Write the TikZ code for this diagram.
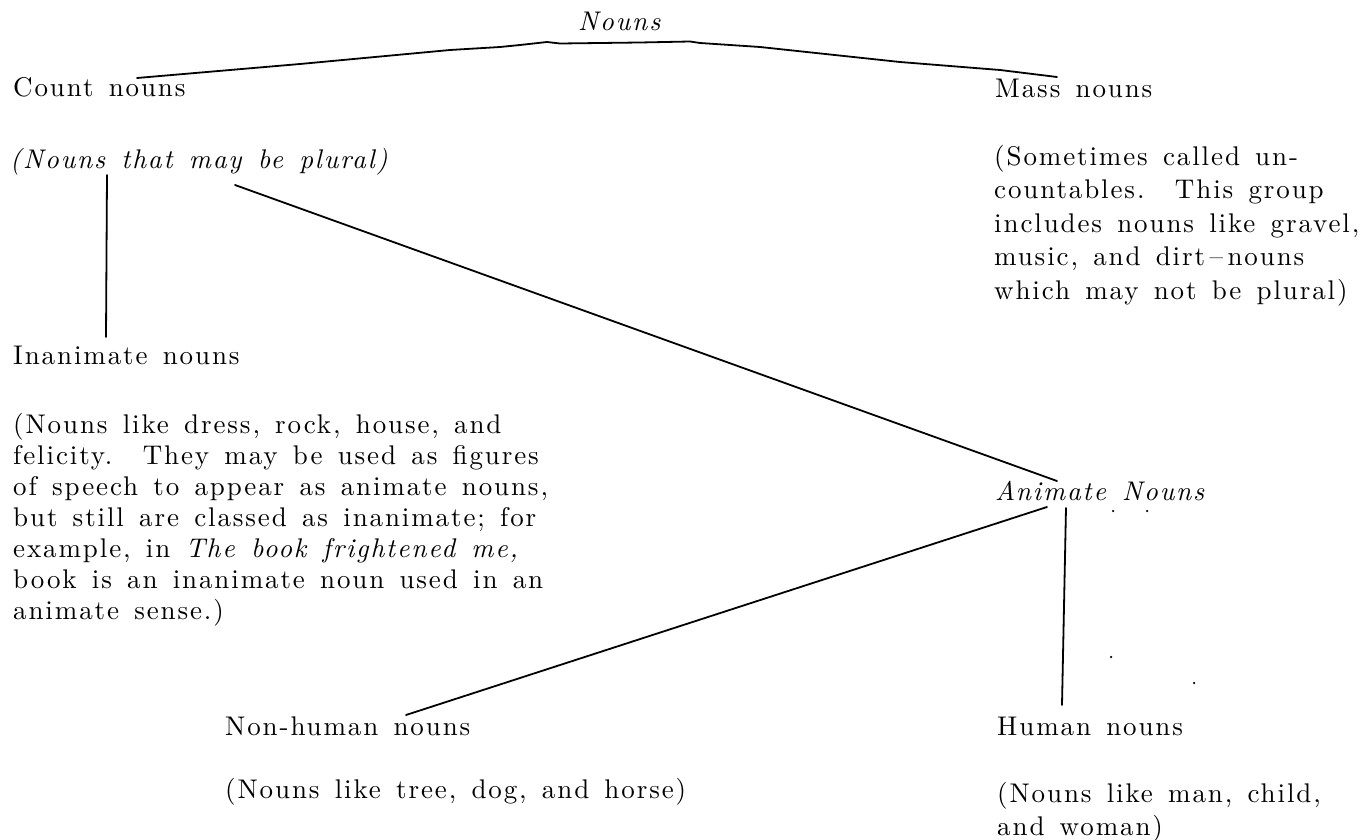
\documentclass[tikz,border=0pt]{standalone}
\usepackage{fontspec}
\setmainfont{lmroman10-regular.otf}[ItalicFont=lmroman10-italic.otf, LetterSpace=7, WordSpace=1.4]
\tikzset{
  lbl/.style={inner sep=0pt, anchor=base west, font=\fontsize{27}{31}\selectfont},
  ilbl/.style={inner sep=0pt, anchor=base west, font=\fontsize{27}{31}\selectfont\itshape},
  para/.style={inner sep=0pt, anchor=north west, align=left, font=\fontsize{27}{#1}\selectfont},
  conn/.style={line width=1.8pt, line cap=round, line join=round},
  speck/.style={fill=black, inner sep=0pt, minimum size=2.5pt, circle}
}
\begin{document}
\begin{tikzpicture}[x=1pt,y=-1pt]
\useasboundingbox (0,0) rectangle (1369,840);
% labels
\node[ilbl] (nouns) at (578,31) {Nouns};
\node[lbl] (count) at (13,97) {Count nouns};
\node[lbl] (mass) at (995,98) {Mass nouns};
\node[ilbl] (plural) at (10,168) {(Nouns that may be plural)};
\node[para=33.5] (massdesc) at (994,145) {(Sometimes called un-\\countables.~~This group\\includes nouns like gravel,\\music, and dirt\,--\,nouns\\which may not be plural)};
\node[lbl] (inan) at (13,364) {Inanimate nouns};
\node[para=31] (inandesc) at (13,413) {(Nouns like dress, rock, house, and\\felicity.~~They may be used as figures\\of speech to appear as animate nouns,\\but still are classed as inanimate; for\\example, in \textit{The book frightened me,}\\book is an inanimate noun used in an\\animate sense.)};
\node[ilbl] (anim) at (995,500) {Animate Nouns};
\node[lbl] (nonhum) at (225,735) {Non-human nouns};
\node[lbl] (nonhumdesc) at (225,798) {(Nouns like tree, dog, and horse)};
\node[lbl] (hum) at (997,735) {Human nouns};
\node[para=33] (humdesc) at (997,782) {(Nouns like man, child,\\and woman)};
% connector end points
\coordinate (c1) at (137,78);
\coordinate (c2) at (1057,77);
\coordinate (v1) at (107,175);
\coordinate (v2) at (106,337);
\coordinate (d1) at (235,185);
\coordinate (d2) at (1057,481);
\coordinate (a1) at (1047,507);
\coordinate (a2) at (406,715);
\coordinate (h1) at (1066,508);
\coordinate (h2) at (1062,705);
% connectors
\draw[conn] (c1) -- (300,64) -- (450,50) -- (500,47) -- (520,45) -- (547,42) -- (560,43.5) -- (600,43) -- (640,42.5) -- (690,41.5) -- (700,43) -- (760,47) -- (900,62) -- (1000,70) -- (c2);
\draw[conn] (v1) -- (v2);
\draw[conn] (d1) -- (d2);
\draw[conn] (a1) -- (a2);
\draw[conn] (h1) -- (h2);
% specks
\node[speck] (s1) at (1113,511) {};
\node[speck] (s2) at (1147,511) {};
\node[speck] (s3) at (1111,657) {};
\node[speck] (s4) at (1194,683) {};
\end{tikzpicture}
\end{document}
